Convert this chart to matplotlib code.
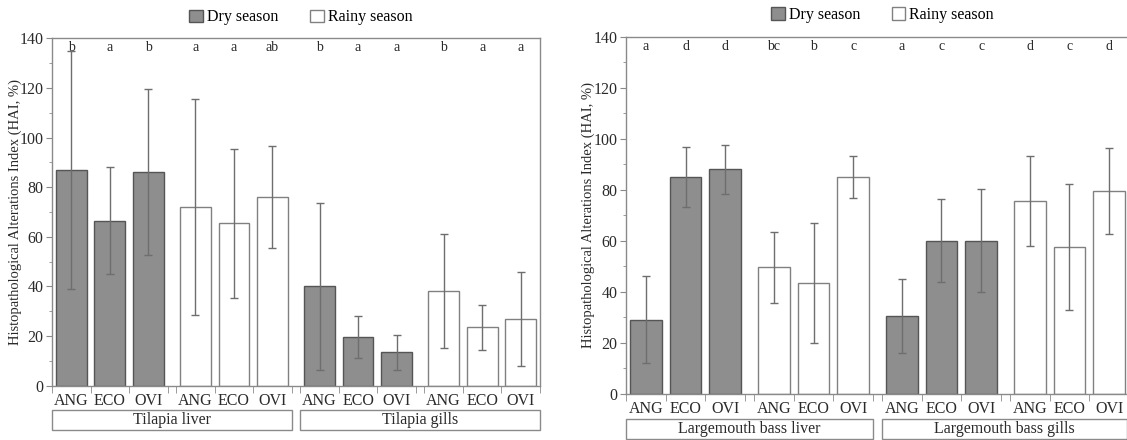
import matplotlib.pyplot as plt
import matplotlib.patches as mpatches
import matplotlib.transforms as mtrans
import numpy as np

plt.rcParams['font.family'] = ['Liberation Serif', 'DejaVu Serif']

# data
sites = ['ANG', 'ECO', 'OVI']
seasons = ['Dry season', 'Rainy season']

# left panel: tilapia (liver dry, liver rainy, gills dry, gills rainy)
til_mean = [[87, 66.5, 86], [72, 65.5, 76], [40, 19.5, 13.5], [38, 23.5, 27]]
til_sd = [[48, 21.5, 33.5], [43.5, 30, 20.5], [33.5, 8.5, 7], [23, 9, 19]]
til_letters = ['b', 'a', 'b', 'a', 'a', 'ab', 'b', 'a', 'a', 'b', 'a', 'a']
til_organs = ['Tilapia liver', 'Tilapia gills']

# right panel: largemouth bass
lmb_mean = [[29, 85, 88], [49.5, 43.5, 85], [30.5, 60, 60], [75.5, 57.5, 79.5]]
lmb_sd = [[17, 11.8, 9.5], [14, 23.6, 8.2], [14.4, 16.3, 20.2], [17.7, 24.8, 16.9]]
lmb_letters = ['a', 'd', 'd', 'bc', 'b', 'c', 'a', 'c', 'c', 'd', 'c', 'd']
lmb_organs = ['Largemouth bass liver', 'Largemouth bass gills']

dry_col = '#8e8e8e'
dry_edge = '#555555'
wet_edge = '#808080'
err_col = '#6e6e6e'
spine_col = '#8a8a8a'
txt_col = '#2a2a2a'
G = 3.22  # group offset


def panel(ax, means, sds, letters, organs, box_y, xmax, ylab_x):
    centers = []
    for g in range(4):
        x = g * G + np.arange(3)
        centers.extend(x)
        dry = g % 2 == 0
        ax.bar(x, means[g], width=0.8,
               color=dry_col if dry else 'white',
               edgecolor=dry_edge if dry else wet_edge, linewidth=1, zorder=2)
        ax.errorbar(x, means[g], yerr=sds[g], fmt='none', ecolor=err_col,
                    elinewidth=1, capsize=3, capthick=1, zorder=3)
    for x, l in zip(centers, letters):
        ax.text(x, 136.3, l, ha='center', va='center', fontsize=10, color=txt_col)

    ax.set_xlim(-0.5, xmax)
    ax.set_ylim(0, 140)
    ax.set_yticks(np.arange(0, 141, 20))
    ax.set_yticks(np.arange(10, 140, 20), minor=True)
    ax.set_xticks(centers)
    ax.set_xticklabels(sites * 4)
    edges = []
    for g in range(4):
        edges.extend(g * G + np.array([-0.5, 0.5, 1.5, 2.5]))
    ax.set_xticks(edges, minor=True)
    ax.tick_params(axis='x', which='major', length=0, labelsize=11.5, pad=5, colors=txt_col)
    ax.tick_params(axis='x', which='minor', length=5, direction='out', color=spine_col)
    ax.tick_params(axis='y', which='major', length=4, pad=2, labelsize=11.5,
                   color=spine_col, labelcolor=txt_col)
    ax.tick_params(axis='y', which='minor', length=2, color=spine_col)
    for s in ax.spines.values():
        s.set_color(spine_col)
        s.set_linewidth(1)
    ax.set_ylabel('Histopathological Alterations Index (HAI, %)', fontsize=10.5, color=txt_col)
    ax.yaxis.set_label_coords(ylab_x, 0.5)

    trans = mtrans.blended_transform_factory(ax.transData, ax.transAxes)
    for k, name in enumerate(organs):
        x0 = 2 * k * G - 0.5
        x1 = (2 * k + 1) * G + 2.5
        if k == 1:
            x1 = min(x1, xmax)
        rect = mpatches.Rectangle((x0, box_y[0]), x1 - x0, box_y[1] - box_y[0],
                                  transform=trans, fill=False, edgecolor=spine_col,
                                  linewidth=1, clip_on=False)
        ax.add_patch(rect)
        ax.text((x0 + x1) / 2, (box_y[0] + box_y[1]) / 2, name, transform=trans,
                ha='center', va='center', fontsize=11.5, color=txt_col)

    handles = [mpatches.Patch(facecolor=dry_col, edgecolor=dry_edge, label=seasons[0]),
               mpatches.Patch(facecolor='white', edgecolor=wet_edge, label=seasons[1])]
    ax.legend(handles=handles, loc='center', bbox_to_anchor=(0.51, 1.06), ncol=2,
              frameon=False, fontsize=11.5, handlelength=0.85, handleheight=0.85,
              handletextpad=0.25, columnspacing=2.0, borderaxespad=0)


fig = plt.figure(figsize=(11.27, 4.4), dpi=100)
ax1 = fig.add_axes([52 / 1127, 54.3 / 440, 488 / 1127, 347.4 / 440])
ax2 = fig.add_axes([626 / 1127, 46.3 / 440, 503 / 1127, 357 / 440])

panel(ax1, til_mean, til_sd, til_letters, til_organs, (-0.128, -0.071), 12.15, -0.062)
panel(ax2, lmb_mean, lmb_sd, lmb_letters, lmb_organs, (-0.126, -0.07), 12.1, -0.062)

fig.savefig('out.png', dpi=100)
